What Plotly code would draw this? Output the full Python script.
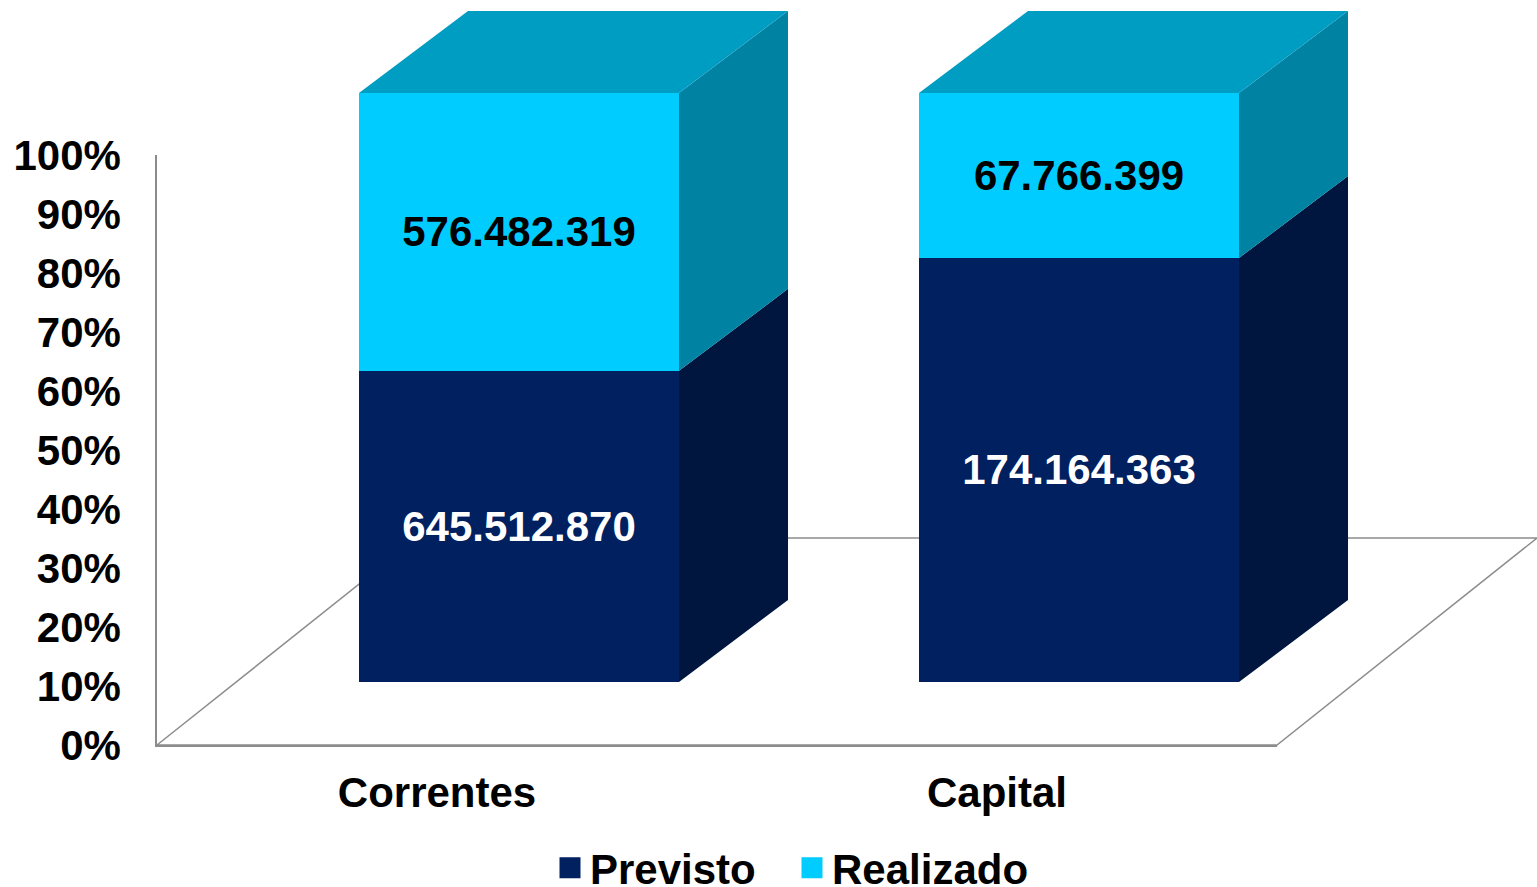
import plotly.graph_objects as go

categories = ["Correntes", "Capital"]
previsto = [645512870, 174164363]
realizado = [576482319, 67766399]
previsto_labels = ["645.512.870", "174.164.363"]
realizado_labels = ["576.482.319", "67.766.399"]
percent_ticks = [0, 10, 20, 30, 40, 50, 60, 70, 80, 90, 100]
percent_labels = [f"{t}%" for t in percent_ticks]

W, H = 1537, 887
NAVY, NAVY_SIDE = "#002060", "#00163F"
CYAN, CYAN_SIDE, CYAN_TOP = "#00CCFF", "#0082A3", "#009DC2"
GRID = "#8C8C8C"
FONT = "Liberation Sans"

# layout geometry, px
AX_L, AX_R, AX_B, AX_T = 157, 1277, 745, 155
UNIT = (AX_R - AX_L) / 2
BAR_BASE, BAR_TOP, BAR_CX = 682, 93, 519
PCT_PX = (BAR_BASE - BAR_TOP) / 100
AX_PCT_PX = (AX_B - AX_T) / 100
BAR_W = 320 / UNIT
DX, DY = 109 / UNIT, 82 / PCT_PX                # bar depth
FLOOR_DX, FLOOR_DY = 260 / UNIT, 207 / AX_PCT_PX  # floor depth
AX_CX = AX_L + UNIT / 2

shares = [100 * p / (p + r) for p, r in zip(previsto, realizado)]

def side(lo, hi):
    xs, ys = [], []
    for i in range(len(categories)):
        e = i + BAR_W / 2
        xs += [e, e + DX, e + DX, e, e, None]
        ys += [lo[i], lo[i] + DY, hi[i] + DY, hi[i], lo[i], None]
    return xs, ys

fig = go.Figure()

# floor outline, behind everything, on its own full-page axes
fx = [-0.5, -0.5 + FLOOR_DX, 1.5 + FLOOR_DX, 1.5, -0.5]
fy = [0, FLOOR_DY, FLOOR_DY, 0, 0]
fig.add_trace(go.Scatter(x=fx, y=fy, mode="lines", line=dict(color=GRID, width=1.5),
                         showlegend=False, hoverinfo="skip", xaxis="x", yaxis="y"))

# front faces
fig.add_trace(go.Bar(x=[0, 1], y=previsto, width=BAR_W, marker=dict(color=NAVY, line_width=0),
                     text=previsto_labels, textposition="inside", insidetextanchor="middle",
                     textangle=0, constraintext="none",
                     textfont=dict(family=FONT, size=42, color="white", weight=700),
                     showlegend=False, xaxis="x3", yaxis="y3", name="Previsto"))
fig.add_trace(go.Bar(x=[0, 1], y=realizado, width=BAR_W, marker=dict(color=CYAN, line_width=0),
                     text=realizado_labels, textposition="inside", insidetextanchor="middle",
                     textangle=0, constraintext="none",
                     textfont=dict(family=FONT, size=42, color="black", weight=700),
                     showlegend=False, xaxis="x3", yaxis="y3", name="Realizado"))

# side and top faces
sx, sy = side([0, 0], shares)
fig.add_trace(go.Scatter(x=sx, y=sy, mode="none", fill="toself", fillcolor=NAVY_SIDE,
                         showlegend=False, hoverinfo="skip", xaxis="x3", yaxis="y3"))
sx, sy = side(shares, [100, 100])
fig.add_trace(go.Scatter(x=sx, y=sy, mode="none", fill="toself", fillcolor=CYAN_SIDE,
                         showlegend=False, hoverinfo="skip", xaxis="x3", yaxis="y3"))
tx, ty = [], []
for i in range(len(categories)):
    l, r = i - BAR_W / 2, i + BAR_W / 2
    tx += [l, l + DX, r + DX, r, l, None]
    ty += [100, 100 + DY, 100 + DY, 100, 100, None]
fig.add_trace(go.Scatter(x=tx, y=ty, mode="none", fill="toself", fillcolor=CYAN_TOP,
                         showlegend=False, hoverinfo="skip", xaxis="x3", yaxis="y3"))

# legend entries
for name, col in (("Previsto", NAVY), ("Realizado", CYAN)):
    fig.add_trace(go.Scatter(x=[None], y=[None], mode="markers", name=name,
                             marker=dict(symbol="square", size=16, color=col,
                                         line=dict(color=col, width=5)),
                             xaxis="x3", yaxis="y3"))

fig.update_layout(
    width=W, height=H, margin=dict(l=0, r=0, t=0, b=0, autoexpand=False),
    paper_bgcolor="white", plot_bgcolor="rgba(0,0,0,0)",
    barmode="stack", barnorm="percent",
    font=dict(family=FONT, size=42, color="black", weight=700),
    # floor axes: same scale as the visible axes, but filling the page
    xaxis=dict(domain=[0, 1], range=[-AX_CX / UNIT, (W - AX_CX) / UNIT], visible=False, anchor="y"),
    yaxis=dict(domain=[0, 1], range=[-(H - AX_B) / AX_PCT_PX, AX_B / AX_PCT_PX], visible=False, anchor="x"),
    # visible axes
    xaxis2=dict(domain=[AX_L / W, AX_R / W], range=[-0.5, 1.5], tickmode="array", anchor="y2",
                tickvals=[0, 1], ticktext=categories, showgrid=False, zeroline=False,
                showline=True, linecolor=GRID, linewidth=1.5, ticks="", ticklabelstandoff=10,
                tickfont=dict(family=FONT, size=42, color="black", weight=700)),
    yaxis2=dict(domain=[(H - AX_B) / H, (H - AX_T) / H], range=[0, 100], tickmode="array", anchor="x2",
                tickvals=percent_ticks, ticktext=percent_labels, showgrid=False, zeroline=False,
                showline=True, linecolor=GRID, linewidth=1.5, ticks="", ticklabelstandoff=26,
                tickfont=dict(family=FONT, size=42, color="black", weight=700)),
    # bar axes
    xaxis3=dict(domain=[0, 1], range=[-BAR_CX / UNIT, (W - BAR_CX) / UNIT], visible=False, anchor="y3"),
    yaxis3=dict(domain=[0, 1], range=[-(H - BAR_BASE) / PCT_PX, BAR_BASE / PCT_PX], visible=False, anchor="x3"),
    showlegend=True,
    legend=dict(orientation="h", x=550 / W, xanchor="left", y=(H - 868) / H, yanchor="middle",
                entrywidth=197, entrywidthmode="pixels", itemwidth=30, traceorder="normal",
                bgcolor="rgba(0,0,0,0)",
                font=dict(family=FONT, size=42, color="black", weight=700)),
)

# dummy trace so the visible axes exist as a subplot
fig.add_trace(go.Scatter(x=[None], y=[None], mode="lines", showlegend=False, hoverinfo="skip",
                         xaxis="x2", yaxis="y2"))

fig.write_html("out.html", config={"displayModeBar": False},
               post_script="document.body.style.margin='0';")
